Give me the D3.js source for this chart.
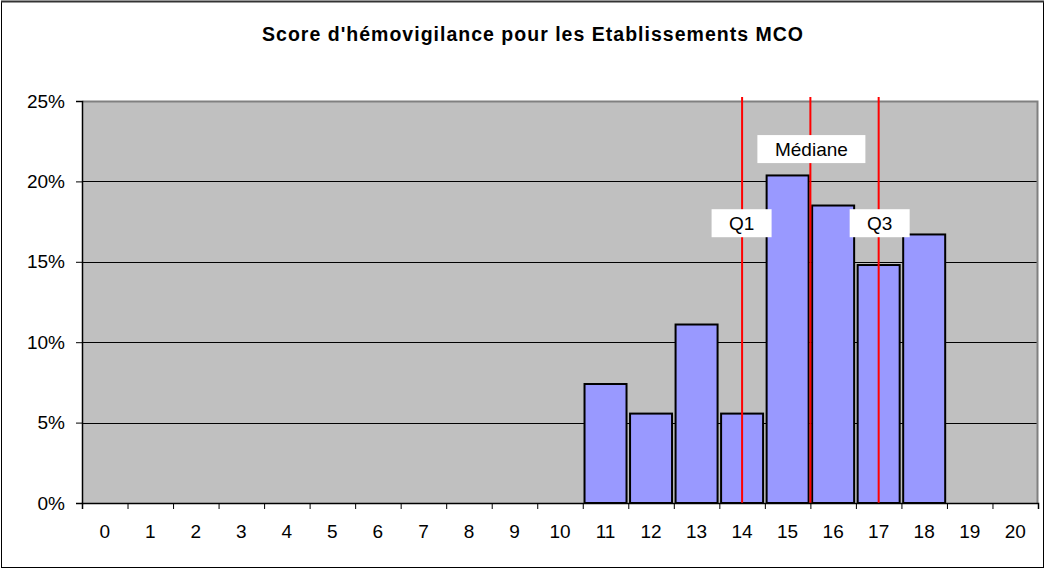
<!DOCTYPE html>
<html>
<head>
<meta charset="utf-8">
<script src="https://cdn.jsdelivr.net/npm/d3@7"></script>
<style>
  body { margin: 0; background: #fff; }
  text { font-family: "Liberation Sans", Arial, sans-serif; }
</style>
</head>
<body>
<div id="chart"></div>
<script>
// data
var scores = d3.range(0, 21);
var shares = [0, 0, 0, 0, 0, 0, 0, 0, 0, 0, 0, 0.074, 0.0556, 0.111, 0.0556, 0.2037, 0.185, 0.148, 0.167, 0, 0];
var yTicks = [0, 0.05, 0.10, 0.15, 0.20, 0.25];
var markerNames = ["Q1", "Médiane", "Q3"];
var markerValues = [14, 15.5, 17];
var title = "Score d'hémovigilance pour les Etablissements MCO";

var W = 1045, H = 569;
var margin = { top: 101, right: 7, bottom: 66, left: 82 };
var width = W - margin.left - margin.right;
var height = H - margin.top - margin.bottom;

var svg = d3.select("#chart")
  .append("svg")
  .attr("width", W)
  .attr("height", H);

// frame of the chart
svg.append("rect")
  .attr("x", 1.5).attr("y", 1.5)
  .attr("width", W - 3).attr("height", H - 3)
  .attr("fill", "#fff")
  .attr("stroke", "#000")
  .attr("stroke-width", 1);
svg.append("line")
  .attr("x1", 1).attr("x2", W - 1)
  .attr("y1", 1.5).attr("y2", 1.5)
  .attr("stroke", "#333").attr("stroke-width", 2);

svg.append("text")
  .attr("x", 262).attr("y", 41)
  .attr("textLength", 541)
  .attr("lengthAdjust", "spacing")
  .style("font-size", "19.5px")
  .style("font-weight", "bold")
  .text(title);

var g = svg.append("g")
  .attr("transform", "translate(" + margin.left + "," + margin.top + ")");

// continuous score axis: score s sits at the centre of its slot
var xLin = d3.scaleLinear()
  .domain([-0.5, 20.5])
  .range([0, width]);

var yScale = d3.scaleLinear()
  .domain([0, 0.25])
  .range([height, 0]);

// plot area
g.append("rect")
  .attr("width", width).attr("height", height)
  .attr("fill", "#c0c0c0");

// gridlines
g.selectAll(".grid")
  .data(yTicks.slice(1, -1))
  .enter()
  .append("line")
  .attr("x1", 0).attr("x2", width)
  .attr("y1", function(d) { return Math.round(yScale(d)) + 0.5; })
  .attr("y2", function(d) { return Math.round(yScale(d)) + 0.5; })
  .attr("stroke", "#000")
  .attr("stroke-width", 1);

// plot border (grey top / right)
g.append("path")
  .attr("d", "M0.5,0.5H" + (width - 0.5) + "V" + height)
  .attr("fill", "none")
  .attr("stroke", "#808080")
  .attr("stroke-width", 2);

// bars
g.selectAll(".bar")
  .data(scores.filter(function(s) { return shares[s] > 0; }))
  .enter()
  .append("rect")
  .attr("class", "bar")
  .attr("x", function(s) { return xLin(s) - 21; })
  .attr("y", function(s) { return yScale(shares[s]); })
  .attr("width", 42)
  .attr("height", function(s) { return height - yScale(shares[s]); })
  .attr("fill", "#9999ff")
  .attr("stroke", "#000")
  .attr("stroke-width", 2);

// quartile lines
g.selectAll(".qline")
  .data(markerValues)
  .enter()
  .append("line")
  .attr("x1", function(d) { return xLin(d); })
  .attr("x2", function(d) { return xLin(d); })
  .attr("y1", -4)
  .attr("y2", height)
  .attr("stroke", "#ff0000")
  .attr("stroke-width", 2);

// quartile labels
var labelY = [0.174, 0.2201, 0.174];
var labelW = [60, 108, 60];
var lab = g.selectAll(".qlab")
  .data(markerNames)
  .enter()
  .append("g")
  .attr("transform", function(d, i) {
    return "translate(" + (xLin(markerValues[i]) + (i == 0 ? -0.5 : 1)) + "," + yScale(labelY[i]) + ")";
  });
lab.append("rect")
  .attr("x", function(d, i) { return -labelW[i] / 2; })
  .attr("y", -14)
  .attr("width", function(d, i) { return labelW[i]; })
  .attr("height", 28)
  .attr("fill", "#fff");
lab.append("text")
  .attr("text-anchor", "middle")
  .attr("dy", "0.36em")
  .style("font-size", "19px")
  .text(function(d) { return d; });

// Axes
var yAxis = d3.axisLeft(yScale)
  .tickValues(yTicks)
  .tickSize(6)
  .tickPadding(11)
  .tickFormat(d3.format(".0%"));
var yG = g.append("g").call(yAxis);
yG.select(".domain").attr("stroke", "#000").attr("stroke-width", 1.5);
yG.selectAll("text").style("font-size", "19px").attr("fill", "#000")
  .style("font-family", "'Liberation Sans', Arial, sans-serif");

var boundaries = d3.range(0, 22);
var xTickAxis = d3.axisBottom(d3.scaleLinear().domain([0, 21]).range([0, width]))
  .tickValues(boundaries)
  .tickSize(6)
  .tickFormat("");
var xG = g.append("g")
  .attr("transform", "translate(0," + height + ")")
  .call(xTickAxis);
xG.select(".domain").attr("stroke", "#000").attr("stroke-width", 1.5);

g.selectAll(".xlab")
  .data(scores)
  .enter()
  .append("text")
  .attr("x", function(s) { return xLin(s); })
  .attr("y", height + 35)
  .attr("text-anchor", "middle")
  .style("font-size", "19px")
  .text(function(s) { return s; });
</script>
</body>
</html>
